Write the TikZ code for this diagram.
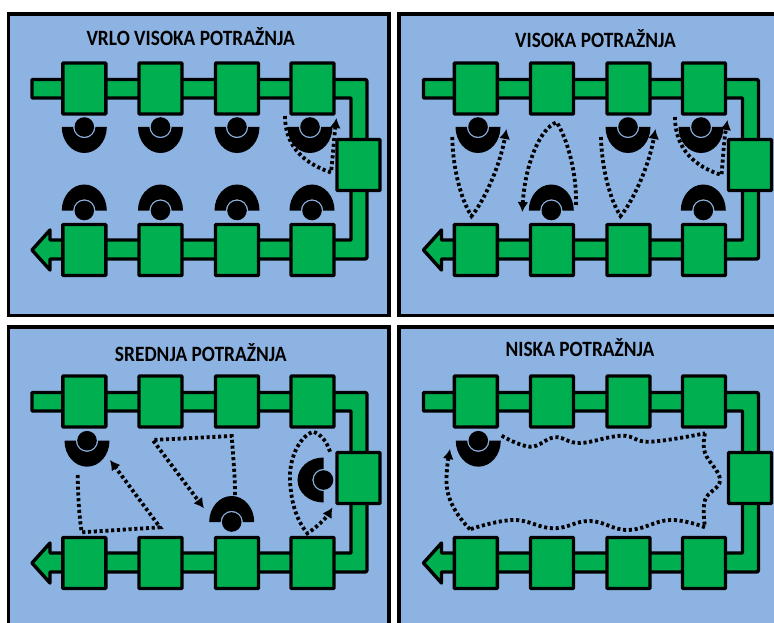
\documentclass[tikz,border=0pt]{standalone}
\usepackage{fontspec}
\setmainfont{Carlito}
\usetikzlibrary{arrows.meta}
\definecolor{panelblue}{HTML}{8DB3E2}
\definecolor{beltgreen}{HTML}{00B050}
\tikzset{
  frame/.style={draw=black,line width=3.2pt,fill=panelblue},
  beltbody/.style={draw=black,line width=3.4pt,fill=beltgreen,line join=round},
  stationbox/.style={draw=black,line width=3.4pt,fill=beltgreen,minimum width=43pt,minimum height=51pt,inner sep=0pt,rounded corners=0.8pt},
  paneltitle/.style={font=\bfseries\fontsize{19}{20}\selectfont,text=black,inner sep=0pt,yscale=1.15,xscale=1.02},
  flow/.style={draw=black,line width=3.8pt,dash pattern=on 3.1pt off 2.7pt},
  flowtip/.style={flow,-{Latex[length=10pt,width=11pt]}},
  pics/operator/.style={code={
    \fill[black] (-22.5,0) .. controls (-22.5,14.4) and (-12.4,26) .. (0,26)
      .. controls (12.4,26) and (22.5,14.4) .. (22.5,0) -- (11.2,0)
      .. controls (11.2,6.2) and (6.2,11.2) .. (0,11.2)
      .. controls (-6.2,11.2) and (-11.2,6.2) .. (-11.2,0) -- cycle;
    \fill[black] (0,0) circle[radius=9.8pt];
  }}
}
\newcommand{\lineunit}[2]{%
  \begin{scope}[shift={(#2)},name prefix=#1-]
    \draw[beltbody] (32,79.5) -- (361,79.5) [rounded corners=2pt] -- (367,79.5) -- (367,259) [sharp corners] -- (50,259) -- (50,270) -- (32,250) -- (50,230) -- (50,240) -- (351,240) -- (351,98) -- (32,98) -- cycle;
    \node[stationbox] (t1) at (84.3,88.5) {};
    \node[stationbox] (t2) at (160.5,88.5) {};
    \node[stationbox] (t3) at (237,88.5) {};
    \node[stationbox] (t4) at (312.5,88.5) {};
    \node[stationbox] (b1) at (84.3,250) {};
    \node[stationbox] (b2) at (160.5,250) {};
    \node[stationbox] (b3) at (237,250) {};
    \node[stationbox] (b4) at (312.5,250) {};
    \node[stationbox] (m) at (358.5,165) {};
  \end{scope}}
\begin{document}
\begin{tikzpicture}[x=1pt,y=-1pt]
\useasboundingbox (0,0) rectangle (774,623);
\clip (0,0) rectangle (774,623);
\fill[white] (0,0) rectangle (774,623);
% frames
\draw[frame] (8.5,14) rectangle (389,315.5);
\draw[frame] (399,14) rectangle (790,315.5);
\draw[frame] (8.5,327) rectangle (389,640);
\draw[frame] (399,327) rectangle (790,640);
% lines
\lineunit{a}{0,0}
\lineunit{b}{391.5,0}
\lineunit{c}{0,313}
\lineunit{d}{391.5,313}
% titles
\node[paneltitle] (ta) at (190.7,37) {VRLO VISOKA POTRAŽNJA};
\node[paneltitle] (tb) at (595.5,38.5) {VISOKA POTRAŽNJA};
\node[paneltitle] (tc) at (200.8,353) {SREDNJA POTRAŽNJA};
\node[paneltitle] (td) at (580,348) {NISKA POTRAŽNJA};
% panel 1
\pic at (84.3,127) {operator};
\pic at (160.5,127) {operator};
\pic at (237,127) {operator};
\pic at (310,127) {operator};
\pic[rotate=180] at (84.3,210.5) {operator};
\pic[rotate=180] at (160.5,210.5) {operator};
\pic[rotate=180] at (237,210.5) {operator};
\pic[rotate=180] at (312,210.5) {operator};
\draw[flowtip] (285,116) .. controls (285,148) and (306,164) .. (331,172.5) .. controls (333,155) and (334,138) .. (336.5,118);
% panel 2
\pic at (478,127) {operator};
\pic at (628,127) {operator};
\pic at (701,127) {operator};
\pic[rotate=180] at (551.3,210.5) {operator};
\pic[rotate=180] at (703.3,210.5) {operator};
\draw[flowtip] (675,117) .. controls (675,150) and (696,167) .. (721.5,175) .. controls (723,158) and (724,140) .. (727.5,120);
\draw[flowtip] (452.3,137) .. controls (452.5,165) and (460,198) .. (471.5,216) .. controls (482,204) and (499,170) .. (506.5,129);
\draw[flowtip] (576,205) .. controls (577,175) and (568,140) .. (556.7,122.3) .. controls (540,128) and (525,165) .. (522.3,212);
\draw[flowtip] (601,137) .. controls (601.5,165) and (609,198) .. (620.5,216) .. controls (631,204) and (648,170) .. (655.5,129);
% panel 3
\pic at (87,440.7) {operator};
\pic[rotate=180] at (231.7,522) {operator};
\pic[rotate=-90] at (323.5,480) {operator};
\draw[flowtip] (77.7,475) .. controls (78,495) and (79,515) .. (81.7,532.3) -- (160,527.3) -- (110,460);
\draw[flowtip] (235,495) .. controls (235,475) and (233,455) .. (231.7,436) -- (152.7,440) -- (204,508.3);
\draw[flowtip] (330,451.7) .. controls (327,442) and (321,434) .. (313,431.7) .. controls (297,438) and (289,462) .. (290,480) .. controls (291,505) and (298,522) .. (307.3,533.3) .. controls (316,528) and (326,518) .. (332.5,507.5);
% panel 4
\pic at (478.3,440.7) {operator};
\draw[flow] plot[smooth,tension=0.7] coordinates {(501.7,435.7) (530,446.7) (555,437.3) (580,443) (621.7,435.7) (650,441.7) (705,433.3)};
\draw[flow] plot[smooth,tension=0.7] coordinates {(705,433.3) (705,453) (720,480) (705,500) (705,527.3)};
\draw[flow] plot[smooth,tension=0.7] coordinates {(705,527.3) (670,520) (628.3,530) (590,521) (553.3,528.3) (513.3,520) (470,529.3)};
\draw[flowtip] (470,529.3) .. controls (456,515) and (446,498) .. (446.5,480) .. controls (446.5,470) and (448,460) .. (450,449);
\end{tikzpicture}
\end{document}
